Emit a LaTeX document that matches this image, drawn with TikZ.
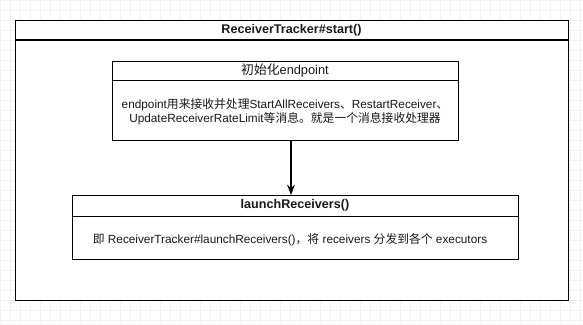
\documentclass[tikz,border=0pt]{standalone}
\usepackage{fontspec}
\setmainfont{Liberation Sans}
\newfontfamily\cjk{Noto Sans CJK SC}
\usetikzlibrary{arrows.meta,positioning,calc}
\definecolor{gridfaint}{HTML}{F3F3F3}
\definecolor{linemain}{HTML}{000000}
\definecolor{textmain}{HTML}{1A1A1A}
\tikzset{every node/.append style={font=\rmfamily,text=textmain}}
\tikzset{
  frame/.style={draw=linemain,line width=1.1pt,fill=white,anchor=north west,inner sep=0pt},
  headtxt/.style={font=\rmfamily\bfseries\fontsize{12.6}{14}\selectfont},
  plaintxt/.style={font=\rmfamily\fontsize{11.8}{13.5}\selectfont,align=center},
}

\begin{document}
\begin{tikzpicture}[>=Stealth,x=1pt,y=-1pt]
  \useasboundingbox (0,0) rectangle (583,324);
  % faint background grid
  \foreach \gx in {0,10,...,580} \draw[gridfaint,line width=.4pt] (\gx,0)--(\gx,324);
  \foreach \gy in {0,10,...,320} \draw[gridfaint,line width=.4pt] (0,\gy)--(583,\gy);
  % outer frame
  \node[frame,minimum width=553pt,minimum height=280pt] (tracker) at (15,20) {};
  \draw[linemain,line width=1.1pt] (15,40)--(568,40);
  \node[headtxt] (trackerhead) at (291.5,30) {ReceiverTracker\#start()};
  % first step
  \node[frame,minimum width=346pt,minimum height=79pt] (endpt) at (112,61) {};
  \draw[linemain,line width=1pt] (112,80)--(458,80);
  \node[font=\fontsize{12.8}{14}\selectfont] (endpthead) at (285,70.5) {{\cjk 初始化}endpoint};
  \node[plaintxt] (endpttxt) at (285,111.5) {endpoint{\cjk 用来接收并处理}StartAllReceivers{\cjk 、}RestartReceiver{\cjk 、}\\
    UpdateReceiverRateLimit{\cjk 等消息。就是一个消息接收处理器}};
  % second step
  \node[frame,minimum width=446pt,minimum height=64pt] (launch) at (72,195) {};
  \draw[linemain,line width=1pt] (72,216)--(518,216);
  \node[headtxt] (launchhead) at (295,205.5) {launchReceivers()};
  \node[plaintxt] (launchtxt) at (290,240) {{\cjk 即} ReceiverTracker\#launchReceivers(){\cjk ，将} receivers {\cjk 分发到各个} executors};
  % flow
  \coordinate (flowx) at (291,0);
  \draw[->,linemain,line width=1.6pt] (endpt.south -| flowx) -- (launch.north -| flowx);
\end{tikzpicture}
\end{document}
